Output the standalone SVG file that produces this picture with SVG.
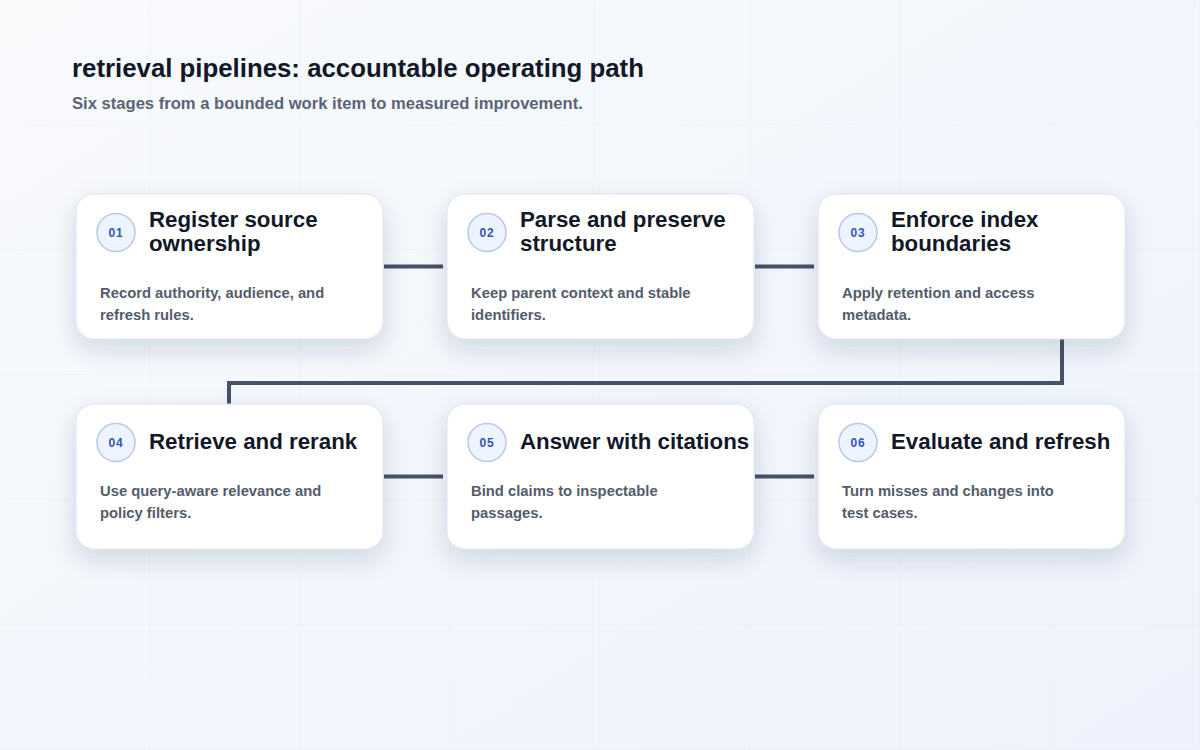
<svg xmlns="http://www.w3.org/2000/svg" width="1200" height="750" viewBox="0 0 1200 750">
  <defs>
    <linearGradient id="bg" x1="0" y1="0" x2="1" y2="1">
      <stop offset="0" stop-color="#f8fafc"/>
      <stop offset="1" stop-color="#edf2fc"/>
    </linearGradient>
    <pattern id="grid" x="0" y="0" width="150" height="125" patternUnits="userSpaceOnUse">
      <path d="M150 0 V125 M0 125 H150" fill="none" stroke="#e3e8f0" stroke-width="1" opacity="0.55"/>
    </pattern>
    <filter id="shadow" x="-20%" y="-20%" width="140%" height="170%">
      <feDropShadow dx="0" dy="10" stdDeviation="12" flood-color="#1e2a44" flood-opacity="0.15"/>
    </filter>
  </defs>
  <style>
    .card { fill: #ffffff; stroke: #dbe2ee; stroke-width: 1; filter: url(#shadow); }
    .badge { fill: #eef4ff; stroke: #b8c8e4; stroke-width: 1.5; }
    .num { font-family: "Liberation Sans", Arial, sans-serif; font-size: 12px; font-weight: 700; fill: #2d58b0; text-anchor: middle; letter-spacing: 0.8px; }
    .title { font-family: "Liberation Sans", Arial, sans-serif; font-size: 22.3px; font-weight: 700; fill: #111827; }
    .desc { font-family: "Liberation Sans", Arial, sans-serif; font-size: 14.8px; font-weight: 700; fill: #535c6b; }
    .h1 { font-family: "Liberation Sans", Arial, sans-serif; font-size: 25.8px; font-weight: 700; fill: #111827; }
    .h2 { font-family: "Liberation Sans", Arial, sans-serif; font-size: 16.6px; font-weight: 700; fill: #5a6474; }
    .conn { fill: none; stroke: #465366; stroke-width: 4; stroke-linejoin: miter; }
  </style>

  <rect x="0" y="0" width="1200" height="750" fill="url(#bg)"/>
  <rect x="0" y="0" width="1200" height="750" fill="url(#grid)"/>

  <text class="h1" x="72" y="77">retrieval pipelines: accountable operating path</text>
  <text class="h2" x="72" y="109">Six stages from a bounded work item to measured improvement.</text>

  <g id="connectors">
    <path class="conn" d="M384 266.5 H443"/>
    <path class="conn" d="M755 266.5 H814"/>
    <path class="conn" d="M1062 339 V383 H229 V404"/>
    <path class="conn" d="M384 476.5 H443"/>
    <path class="conn" d="M755 476.5 H814"/>
  </g>

  <g id="node-01">
    <rect class="card" x="76" y="194" width="307" height="145" rx="18"/>
    <circle class="badge" cx="116" cy="232.5" r="19"/>
    <text class="num" x="116" y="237">01</text>
    <text class="title" x="149" y="227">Register source</text>
    <text class="title" x="149" y="251">ownership</text>
    <text class="desc" x="100" y="298">Record authority, audience, and</text>
    <text class="desc" x="100" y="320">refresh rules.</text>
  </g>

  <g id="node-02">
    <rect class="card" x="447" y="194" width="307" height="145" rx="18"/>
    <circle class="badge" cx="487" cy="232.5" r="19"/>
    <text class="num" x="487" y="237">02</text>
    <text class="title" x="520" y="227">Parse and preserve</text>
    <text class="title" x="520" y="251">structure</text>
    <text class="desc" x="471" y="298">Keep parent context and stable</text>
    <text class="desc" x="471" y="320">identifiers.</text>
  </g>

  <g id="node-03">
    <rect class="card" x="818" y="194" width="307" height="145" rx="18"/>
    <circle class="badge" cx="858" cy="232.5" r="19"/>
    <text class="num" x="858" y="237">03</text>
    <text class="title" x="891" y="227">Enforce index</text>
    <text class="title" x="891" y="251">boundaries</text>
    <text class="desc" x="842" y="298">Apply retention and access</text>
    <text class="desc" x="842" y="320">metadata.</text>
  </g>

  <g id="node-04">
    <rect class="card" x="76" y="404" width="307" height="145" rx="18"/>
    <circle class="badge" cx="116" cy="442.5" r="19"/>
    <text class="num" x="116" y="447">04</text>
    <text class="title" x="149" y="449">Retrieve and rerank</text>
    <text class="desc" x="100" y="496">Use query-aware relevance and</text>
    <text class="desc" x="100" y="518">policy filters.</text>
  </g>

  <g id="node-05">
    <rect class="card" x="447" y="404" width="307" height="145" rx="18"/>
    <circle class="badge" cx="487" cy="442.5" r="19"/>
    <text class="num" x="487" y="447">05</text>
    <text class="title" x="520" y="449">Answer with citations</text>
    <text class="desc" x="471" y="496">Bind claims to inspectable</text>
    <text class="desc" x="471" y="518">passages.</text>
  </g>

  <g id="node-06">
    <rect class="card" x="818" y="404" width="307" height="145" rx="18"/>
    <circle class="badge" cx="858" cy="442.5" r="19"/>
    <text class="num" x="858" y="447">06</text>
    <text class="title" x="891" y="449">Evaluate and refresh</text>
    <text class="desc" x="842" y="496">Turn misses and changes into</text>
    <text class="desc" x="842" y="518">test cases.</text>
  </g>
</svg>
